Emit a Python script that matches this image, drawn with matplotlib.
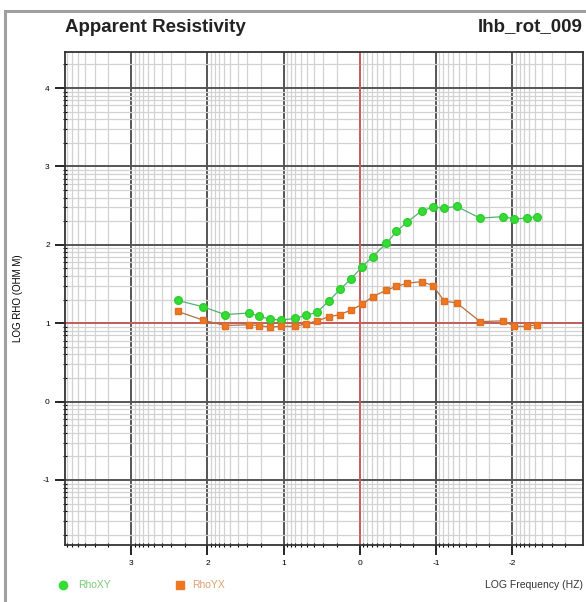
import matplotlib
matplotlib.use("Agg")
import matplotlib.pyplot as plt
import numpy as np
from matplotlib.patches import Rectangle

plt.rcParams['font.family'] = ['Liberation Sans', 'DejaVu Sans']

# log10 frequency (Hz) of each sounding point
log_freq = [2.39, 2.06, 1.77, 1.46, 1.32, 1.18, 1.04, 0.85, 0.71, 0.56, 0.41,
            0.26, 0.11, -0.03, -0.17, -0.35, -0.48, -0.62, -0.81, -0.96,
            -1.11, -1.27, -1.58, -1.88, -2.03, -2.19, -2.32]
# log10 apparent resistivity
rho_xy = [1.29, 1.21, 1.11, 1.13, 1.09, 1.05, 1.04, 1.06, 1.10, 1.14, 1.28,
          1.43, 1.57, 1.72, 1.85, 2.02, 2.17, 2.29, 2.43, 2.48,
          2.47, 2.49, 2.34, 2.36, 2.33, 2.34, 2.36]
rho_yx = [1.15, 1.04, 0.97, 0.98, 0.97, 0.95, 0.96, 0.96, 0.99, 1.03, 1.08,
          1.11, 1.17, 1.24, 1.34, 1.42, 1.47, 1.51, 1.53, 1.48,
          1.28, 1.26, 1.02, 1.03, 0.96, 0.96, 0.98]

x_major = [3, 2, 1, 0, -1, -2]
y_major = [4, 3, 2, 1, 0, -1]

W, H = 586, 602
fig = plt.figure(figsize=(W / 100, H / 100), dpi=100)
fig.patch.set_facecolor('white')

# outer frame
fig.patches.append(Rectangle((5 / W, -0.02), 1.1, 1 - 11 / H + 0.02, transform=fig.transFigure,
                             fill=False, edgecolor='#a0a0a0', lw=2.2))

ax = fig.add_axes([65 / W, 1 - 545 / H, (583 - 65) / W, (545 - 52) / H])

# log-spaced minor positions inside each decade
minor_off = np.log10(np.arange(2, 10))
x_minor = [d + o for d in range(-3, 4) for o in minor_off]
y_minor = [d + o for d in range(-2, 5) for o in minor_off]
ax.set_xticks(x_major)
ax.set_xticks(x_minor, minor=True)
ax.set_yticks(y_major)
ax.set_yticks(y_minor, minor=True)
ax.set_xticklabels([str(v) for v in x_major])
ax.set_yticklabels([str(v) for v in y_major])
ax.set_xlim(3.87, -2.93)
ax.set_ylim(-1.83, 4.46)

ax.grid(which='minor', color='#d2d2d2', lw=0.9)
ax.grid(which='major', color='#555555', lw=1.4)
ax.set_axisbelow(True)
ax.axvline(0, color='#d06060', lw=1.3, zorder=1.5)
ax.axhline(1, color='#d06060', lw=1.3, zorder=1.5)

ax.tick_params(which='major', length=7, width=1.2, direction='out', labelsize=6, pad=4)
ax.tick_params(which='minor', length=3, width=0.8, direction='inout')
for s in ax.spines.values():
    s.set_color('#333333')
    s.set_linewidth(1.3)

ax.plot(log_freq, rho_xy, '-', color='#55b070', lw=0.9, zorder=3)
ax.plot(log_freq, rho_xy, 'o', color='#33dd33', ms=5.5, mec='#2ecc2e', zorder=4)
ax.plot(log_freq, rho_yx, '-', color='#b07040', lw=0.9, zorder=3)
ax.plot(log_freq, rho_yx, 's', color='#ee7722', ms=5, mec='#e07020', zorder=4)

ax.set_ylabel('LOG RHO (OHM M)', fontsize=7, labelpad=14)

fig.text(65 / W, 1 - 27 / H, 'Apparent Resistivity', fontsize=13.5, fontweight='bold',
         ha='left', va='center', color='#222222')
fig.text(583 / W, 1 - 27 / H, 'lhb_rot_009', fontsize=13.5, fontweight='bold',
         ha='right', va='center', color='#222222')
fig.text(583 / W, 1 - 585 / H, 'LOG Frequency (HZ)', fontsize=7.5,
         ha='right', va='center', color='#333333')

# legend
fig.lines.append(plt.Line2D([63 / W], [1 - 585 / H], marker='o', color='#33dd33', ms=6,
                            transform=fig.transFigure))
fig.text(78 / W, 1 - 585 / H, 'RhoXY', fontsize=7.5, color='#77cc77', ha='left', va='center')
fig.lines.append(plt.Line2D([180 / W], [1 - 585 / H], marker='s', color='#ee7722', ms=5.5,
                            transform=fig.transFigure))
fig.text(192 / W, 1 - 585 / H, 'RhoYX', fontsize=7.5, color='#e0a070', ha='left', va='center')

fig.savefig('out.png', dpi=100)
